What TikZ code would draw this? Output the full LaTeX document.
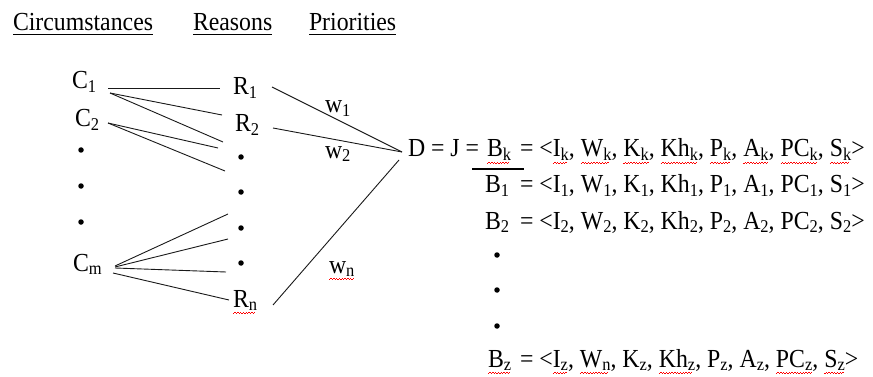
\documentclass[tikz,border=0pt]{standalone}
\usepackage{fontspec}
\setmainfont{Liberation Serif}[FakeStretch=0.915]
\newsavebox\wvbox
\newcommand\lo[1]{\raisebox{-3.8pt}{\fontsize{18}{18}\selectfont #1}}
\newcommand\wv[1]{\sbox\wvbox{#1}\rlap{\color{red}\leaders\hbox{\rule[-7.2pt]{1.4pt}{0.9pt}\rule[-6pt]{1.4pt}{0.9pt}}\hskip\wd\wvbox}\usebox\wvbox}
\begin{document}
\begin{tikzpicture}[x=1pt,y=-1pt,
  every node/.style={inner sep=0pt, outer sep=0pt, font=\fontsize{26}{30}\selectfont, anchor=base west},
  dot/.style={circle, fill=black, minimum size=5.5pt, anchor=center},
  link/.style={draw=black!90, line width=0.9pt}]
\useasboundingbox (0,0) rectangle (873,377);
% headings
\node (hc) at (13,31) {Circumstances};
\node (hr) at (193,31) {Reasons};
\node (hp) at (309,31) {Priorities};
\foreach \h in {hc,hr,hp}
  \draw[line width=0.8pt] ([yshift=-3.5pt]\h.base west) -- ([yshift=-3.5pt]\h.base east);
% circumstances
\node (c1) at (72,89) {C\lo{1}};
\node (c2) at (75,127) {C\lo{2}};
\node[dot] (cd1) at (81,150) {};
\node[dot] (cd2) at (81,186) {};
\node[dot] (cd3) at (81,222) {};
\node (cm) at (73,271) {C\lo{m}};
% reasons
\node (r1) at (233,95) {R\lo{1}};
\node (r2) at (235,132) {R\lo{2}};
\node[dot] (rd1) at (241,157) {};
\node[dot] (rd2) at (241,192) {};
\node[dot] (rd3) at (241,228) {};
\node[dot] (rd4) at (241,263) {};
\node (rn) at (233,307) {\wv{R\lo{n}}};
% priorities
\node (w1) at (325,113) {w\lo{1}};
\node (w2) at (325,158) {w\lo{2}};
\node (wn) at (329,273) {\wv{w\lo{n}}};
% decision
\node (d) at (408,157) {D = J =};
\node (bk) at (487,157) {\wv{B\lo{k}}};
\node (ek) at (520,157) {= <\wv{I\lo{k}}, \wv{W\lo{k}}, \wv{K\lo{k}}, \wv{Kh\lo{k}}, \wv{P\lo{k}}, \wv{A\lo{k}}, \wv{PC\lo{k}}, \wv{S\lo{k}}>};
\draw[line width=2pt] ([shift={(-15,12)}]bk.base west) -- ([shift={(37,12)}]bk.base west);
\node (b1) at (485,193) {B\lo{1}};
\node (e1) at (520,193) {= <I\lo{1}, W\lo{1}, K\lo{1}, Kh\lo{1}, P\lo{1}, A\lo{1}, PC\lo{1}, S\lo{1}>};
\node (b2) at (485,229) {B\lo{2}};
\node (e2) at (520,229) {= <I\lo{2}, W\lo{2}, K\lo{2}, Kh\lo{2}, P\lo{2}, A\lo{2}, PC\lo{2}, S\lo{2}>};
\node[dot] (bd1) at (497,255) {};
\node[dot] (bd2) at (497,290) {};
\node[dot] (bd3) at (497,326) {};
\node (bz) at (488,367) {\wv{B\lo{z}}};
\node (ez) at (520,367) {= <\wv{I\lo{z}}, \wv{W\lo{n}}, K\lo{z}, \wv{Kh\lo{z}}, P\lo{z}, A\lo{z}, \wv{PC\lo{z}}, \wv{S\lo{z}}>};
% connectors C -> R
\draw[link] ([shift={(36,-1)}]c1.base west) -- ([shift={(-13,-7)}]r1.base west);
\draw[link] ([shift={(38,4)}]c1.base west) -- ([shift={(-13,-17)}]r2.base west);
\draw[link] ([shift={(38,4)}]c1.base west) -- ([shift={(-18,-15)}]rd1.center);
\draw[link] ([shift={(33,-4)}]c2.base west) -- ([shift={(-23,-9)}]rd1.center);
\draw[link] ([shift={(33,-4)}]c2.base west) -- ([shift={(-16,14)}]rd1.center);
\draw[link] ([shift={(42,-5)}]cm.base west) -- ([shift={(-13,-14)}]rd3.center);
\draw[link] ([shift={(42,-4)}]cm.base west) -- ([shift={(-13,11)}]rd3.center);
\draw[link] ([shift={(42,-3)}]cm.base west) -- ([shift={(-15,9)}]rd4.center);
\draw[link] ([shift={(40,2)}]cm.base west) -- ([shift={(-4,-7)}]rn.base west);
% connectors R -> D
\draw[link] ([shift={(39,-8)}]r1.base west) -- ([shift={(-6,-5)}]d.base west);
\draw[link] ([shift={(38,-4)}]r2.base west) -- ([shift={(-6,-5)}]d.base west);
\draw[link] ([shift={(40,-2)}]rn.base west) -- ([shift={(-9,3)}]d.base west);
\end{tikzpicture}
\end{document}
